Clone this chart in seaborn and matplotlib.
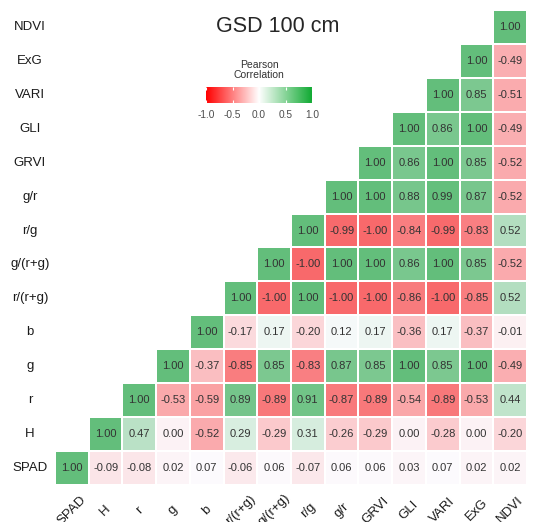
import numpy as np
import pandas as pd
import matplotlib
matplotlib.use("Agg")
import matplotlib.pyplot as plt
from matplotlib.colors import LinearSegmentedColormap
import seaborn as sns

# Variables in column order (left to right); rows are drawn in reverse (SPAD at the bottom)
variables = ["SPAD", "H", "r", "g", "b", "r/(r+g)", "g/(r+g)", "r/g", "g/r",
             "GRVI", "GLI", "VARI", "ExG", "NDVI"]

# Pearson correlations: each row starts at its own variable and runs to NDVI
corr_spad = [1.00, -0.09, -0.08, 0.02, 0.07, -0.06, 0.06, -0.07, 0.06, 0.06, 0.03, 0.07, 0.02, 0.02]
corr_h = [1.00, 0.47, 0.00, -0.52, 0.29, -0.29, 0.31, -0.26, -0.29, 0.00, -0.28, 0.00, -0.20]
corr_r = [1.00, -0.53, -0.59, 0.89, -0.89, 0.91, -0.87, -0.89, -0.54, -0.89, -0.53, 0.44]
corr_g = [1.00, -0.37, -0.85, 0.85, -0.83, 0.87, 0.85, 1.00, 0.85, 1.00, -0.49]
corr_b = [1.00, -0.17, 0.17, -0.20, 0.12, 0.17, -0.36, 0.17, -0.37, -0.01]
corr_r_rg = [1.00, -1.00, 1.00, -1.00, -1.00, -0.86, -1.00, -0.85, 0.52]
corr_g_rg = [1.00, -1.00, 1.00, 1.00, 0.86, 1.00, 0.85, -0.52]
corr_r_g = [1.00, -0.99, -1.00, -0.84, -0.99, -0.83, 0.52]
corr_g_r = [1.00, 1.00, 0.88, 0.99, 0.87, -0.52]
corr_grvi = [1.00, 0.86, 1.00, 0.85, -0.52]
corr_gli = [1.00, 0.86, 1.00, -0.49]
corr_vari = [1.00, 0.85, -0.51]
corr_exg = [1.00, -0.49]
corr_ndvi = [1.00]

rows = [corr_spad, corr_h, corr_r, corr_g, corr_b, corr_r_rg, corr_g_rg,
        corr_r_g, corr_g_r, corr_grvi, corr_gli, corr_vari, corr_exg, corr_ndvi]

n = len(variables)
mat = np.full((n, n), np.nan)
for i, vals in enumerate(rows):
    for k, v in enumerate(vals):
        j = i + k
        mat[i, j] = v
        mat[j, i] = v

show = np.zeros((n, n), dtype=bool)
for i in range(n):
    for j in range(i, n):
        show[i, j] = True

df = pd.DataFrame(mat, index=variables, columns=variables).iloc[::-1]
mask = ~show[::-1]

sns.set_style("white")
plt.rcParams["font.family"] = ["Liberation Sans", "DejaVu Sans"]

# Cell colours: red - near white - green scale
cell_cmap = LinearSegmentedColormap.from_list(
    "cells", [(0.0, "#F8696B"), (1.08 / 2.0, "#FCFCFF"), (1.0, "#63BE7B")])

W, H = 533, 522
fig = plt.figure(figsize=(W / 100, H / 100), dpi=100)
ax = fig.add_axes([55 / W, 37 / H, 472 / W, 475 / H])

sns.heatmap(df, mask=mask, cmap=cell_cmap, vmin=-1, vmax=1, annot=True, fmt=".2f",
            annot_kws={"fontsize": 8, "color": "#333333"},
            linewidths=1.1, linecolor="white", cbar=False, ax=ax)

ax.tick_params(axis="both", length=0)
ax.tick_params(axis="y", pad=18)
ax.tick_params(axis="x", pad=18)
for lab in ax.get_yticklabels():
    lab.set_rotation(0)
    lab.set_horizontalalignment("center")
    lab.set_fontsize(9.5)
    lab.set_color("#1a1a1a")
for lab in ax.get_xticklabels():
    lab.set_rotation(45)
    lab.set_rotation_mode("anchor")
    lab.set_horizontalalignment("center")
    lab.set_verticalalignment("center")
    lab.set_fontsize(9.5)
    lab.set_color("#1a1a1a")
ax.set_xlabel("")
ax.set_ylabel("")

fig.text(278 / W, 1 - 27 / H, "GSD 100 cm", ha="center", va="center", fontsize=15.5)

# Legend colour bar
bar_cmap = LinearSegmentedColormap.from_list("bar", ["#FF0000", "#FFFFFF", "#11AA33"])
cax = fig.add_axes([206 / W, 1 - 103 / H, 106 / W, 16 / H])
grad = np.linspace(-1, 1, 256).reshape(1, -1)
cax.imshow(grad, cmap=bar_cmap, aspect="auto", extent=[-1, 1, 0, 1], vmin=-1, vmax=1)
cax.set_xlim(-1, 1)
cax.set_yticks([])
cax.set_xticks([-1.0, -0.5, 0.0, 0.5, 1.0])
cax.set_xticklabels(["-1.0", "-0.5", "0.0", "0.5", "1.0"], fontsize=7.3, color="#4d4d4d")
cax.tick_params(axis="x", direction="in", length=2.5, width=0.8, color="white",
                top=True, bottom=True, pad=5)
for s in cax.spines.values():
    s.set_visible(False)
fig.text(259 / W, 1 - 70 / H, "Pearson\nCorrelation", ha="center", va="center",
         fontsize=7.5, color="#333333", linespacing=0.95)

fig.savefig("out.png", dpi=100)
